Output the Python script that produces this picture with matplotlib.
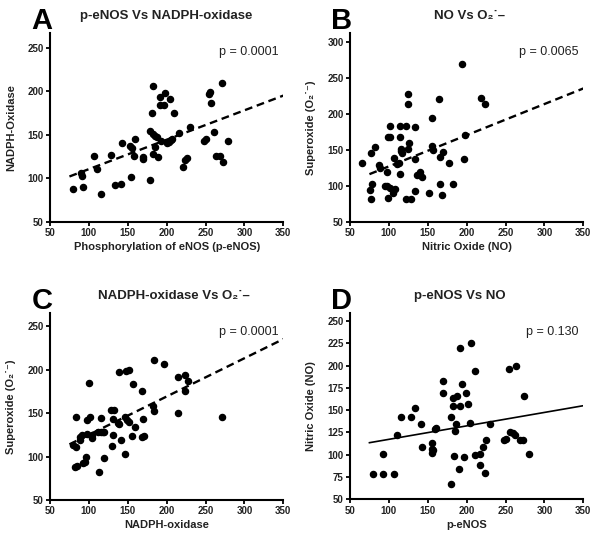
import numpy as np
import matplotlib
matplotlib.use('Agg')
import matplotlib.pyplot as plt

plt.rcParams['font.family'] = ['Liberation Sans', 'DejaVu Sans']

# A: p-eNOS vs NADPH-oxidase
a_x = [79, 90, 91, 92, 106, 110, 116, 128, 133, 141, 143, 153, 154, 156, 159, 158,
       169, 169, 179, 179, 181, 183, 182, 185, 189, 191, 191, 196, 198, 193, 201, 204,
       207, 210, 216, 221, 224, 226, 230, 248, 251, 255, 256, 257, 261, 264, 268, 271,
       273, 279, 182, 185, 187, 203, 206]
a_y = [88, 106, 103, 90, 126, 111, 82, 127, 92, 93, 141, 137, 101, 135, 145, 125,
       124, 122, 98, 154, 175, 206, 128, 136, 124, 193, 184, 184, 198, 143, 140, 191,
       145, 175, 152, 113, 121, 123, 159, 143, 145, 197, 199, 187, 153, 125, 126, 210,
       119, 143, 151, 149, 147, 142, 144]
a_fit_x = [75, 350]
a_fit_y = [102, 195]

# B: NO vs superoxide
b_x = [66, 77, 78, 76, 77, 82, 87, 89, 97, 95, 99, 101, 98, 101, 99, 105, 106, 108,
       110, 113, 114, 114, 114, 116, 117, 122, 122, 124, 124, 125, 126, 128, 134, 134,
       134, 136, 140, 142, 152, 155, 156, 157, 164, 166, 166, 169, 168, 177, 183, 194,
       196, 198, 219, 224, 101, 115]
b_y = [132, 146, 103, 94, 81, 154, 129, 124, 119, 100, 168, 183, 100, 97, 83, 90, 139, 96,
       130, 132, 167, 183, 116, 151, 145, 183, 81, 151, 227, 213, 159, 81, 137, 182,
       93, 115, 119, 112, 90, 194, 155, 150, 221, 140, 102, 147, 87, 131, 103, 269,
       137, 170, 222, 213, 168, 148]
b_fit_x = [75, 350]
b_fit_y = [116, 235]

# C: NADPH-oxidase vs superoxide
c_x = [79, 83, 83, 82, 85, 88, 89, 91, 92, 95, 96, 97, 98, 100, 101, 104, 104, 112,
       113, 115, 115, 118, 119, 120, 129, 132, 130, 131, 131, 139, 137, 139, 141, 146,
       147, 148, 152, 149, 151, 155, 157, 159, 168, 168, 171, 170, 183, 184, 184, 196,
       214, 215, 224, 224, 228, 271]
c_y = [113, 111, 145, 88, 89, 119, 123, 125, 92, 94, 100, 126, 142, 185, 146, 121, 125, 128,
       82, 144, 128, 128, 98, 128, 153, 153, 112, 125, 143, 197, 138, 137, 119, 145,
       103, 198, 199, 142, 140, 124, 183, 134, 175, 123, 124, 143, 158, 152, 211, 206,
       150, 191, 175, 194, 187, 146]
c_fit_x = [75, 350]
c_fit_y = [114, 235]

# D: p-eNOS vs NO
d_x = [79, 92, 92, 106, 111, 116, 128, 133, 141, 143, 155, 155, 156, 157, 159, 161,
       169, 170, 180, 180, 183, 183, 184, 185, 186, 187, 191, 190, 192, 194, 196, 199,
       202, 205, 204, 211, 211, 217, 217, 221, 224, 225, 230, 248, 251, 255, 256, 259,
       262, 264, 269, 272, 274, 280]
d_y = [78.5, 78.5, 101, 78, 122, 142, 142, 152, 135, 108.5, 106, 102, 113, 105.5, 129, 129.5,
       183, 169, 142, 67, 155, 164, 99, 127, 134, 166, 220, 84, 155, 179, 97, 169,
       157, 225, 136, 194, 100, 101, 89, 108.5, 80, 117, 134, 117, 118, 196, 125, 124,
       122, 199, 116, 116, 166, 101]
d_fit_x = [75, 350]
d_fit_y = [113.5, 155]

O2 = 'O\u2082\u02d9\u2013'

panels = [
    dict(x=a_x, y=a_y, fx=a_fit_x, fy=a_fit_y, dashed=True, letter='A',
         title='p-eNOS Vs NADPH-oxidase', p='p = 0.0001', tx=166,
         xlabel='Phosphorylation of eNOS (p-eNOS)', ylabel='NADPH-Oxidase',
         yticks=[50, 100, 150, 200, 250], ylim=(50, 267),
         rect=(50, 33, 283.3, 221.7)),
    dict(x=b_x, y=b_y, fx=b_fit_x, fy=b_fit_y, dashed=True, letter='B',
         title='NO Vs ' + O2, p='p = 0.0065', tx=469,
         xlabel='Nitric Oxide (NO)', ylabel='Superoxide (O\u2082\u02d9\u207b)',
         yticks=[50, 100, 150, 200, 250, 300], ylim=(50, 312),
         rect=(350, 33, 583.3, 221.7)),
    dict(x=c_x, y=c_y, fx=c_fit_x, fy=c_fit_y, dashed=True, letter='C',
         title='NADPH-oxidase Vs ' + O2, p='p = 0.0001', tx=174,
         xlabel='NADPH-oxidase', ylabel='Superoxide (O\u2082\u02d9\u207b)',
         yticks=[50, 100, 150, 200, 250], ylim=(50, 265),
         rect=(50, 313, 283.3, 500)),
    dict(x=d_x, y=d_y, fx=d_fit_x, fy=d_fit_y, dashed=False, letter='D',
         title='p-eNOS Vs NO', p='p = 0.130', tx=460,
         xlabel='p-eNOS', ylabel='Nitric Oxide (NO)',
         yticks=[50, 75, 100, 125, 150, 175, 200, 225, 250], ylim=(50, 259),
         rect=(350, 313, 583.3, 499.3)),
]

W, H = 600, 539
fig = plt.figure(figsize=(W / 100, H / 100), dpi=100)
fig.patch.set_facecolor('white')
txt = '#222222'

for pn in panels:
    l, t, r, b = pn['rect']
    ax = fig.add_axes([l / W, 1 - b / H, (r - l) / W, (b - t) / H])
    ax.plot(pn['x'], pn['y'], 'o', color='black', ms=4.4, mec='black', clip_on=False)
    if pn['dashed']:
        ax.plot(pn['fx'], pn['fy'], color='black', lw=1.7, dashes=(3.3, 2.0))
    else:
        ax.plot(pn['fx'], pn['fy'], color='black', lw=1.2)
    ax.set_xlim(50, 350)
    ax.set_ylim(*pn['ylim'])
    ax.set_xticks([50, 100, 150, 200, 250, 300, 350])
    ax.set_yticks(pn['yticks'])
    for s in ['top', 'right']:
        ax.spines[s].set_visible(False)
    for s in ['left', 'bottom']:
        ax.spines[s].set_linewidth(1.5)
    ax.tick_params(direction='out', length=3, width=1.3, labelsize=7, colors='black',
                   labelcolor=txt, pad=1.5)
    for lab in ax.get_xticklabels() + ax.get_yticklabels():
        lab.set_fontweight('bold')
    ax.set_xlabel(pn['xlabel'], fontsize=8, fontweight='bold', color=txt, labelpad=3)
    ax.set_ylabel(pn['ylabel'], fontsize=8, fontweight='bold', color=txt)
    ax.yaxis.set_label_coords(-0.145, 0.5)
    ax.text(0.98, 0.90, pn['p'], transform=ax.transAxes, ha='right', va='center',
            fontsize=9, color=txt)
    fig.text((l - 8) / W, 1 - (t - 12) / H, pn['letter'], fontsize=21, fontweight='bold',
             ha='center', va='center')
    fig.text(pn['tx'] / W, 1 - (t - 17) / H, pn['title'], fontsize=9.5,
             fontweight='bold', ha='center', va='center', color=txt)

fig.savefig('out.png', dpi=100, facecolor='white')
